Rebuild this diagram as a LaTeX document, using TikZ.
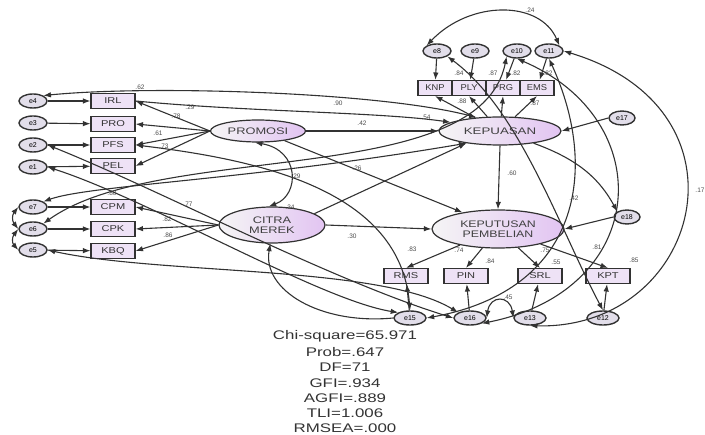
\documentclass[tikz,border=0pt]{standalone}
\usepackage{fontspec}
\setmainfont{Liberation Sans}
\usetikzlibrary{shapes.geometric,arrows.meta}
\definecolor{latpink}{RGB}{226,196,242}
\definecolor{obsfill}{RGB}{238,226,246}
\definecolor{errfill}{RGB}{226,222,234}
\definecolor{ln}{RGB}{50,50,50}
\begin{document}
\begin{tikzpicture}[x=1pt,y=-1pt,
  lat/.style={ellipse, draw=ln, line width=1.2pt, left color=black!4, right color=latpink, inner sep=0pt, font=\fontsize{9.5}{10}\selectfont, align=center, text=black!75},
  obs/.style={rectangle, draw=ln, line width=1.1pt, fill=obsfill, minimum width=44, minimum height=15, inner sep=0pt, font=\fontsize{8.5}{9}\selectfont, text=black!80},
  err/.style={ellipse, draw=ln, line width=1.4pt, fill=errfill, minimum width=28, minimum height=14, inner sep=0pt, font=\fontsize{7}{7}\selectfont},
  pth/.style={-{Latex[length=7.5pt,width=5.5pt]}, line width=1.1pt, draw=ln},
  cov/.style={{Latex[length=7.5pt,width=5.5pt]}-{Latex[length=7.5pt,width=5.5pt]}, line width=1.1pt, draw=ln},
  lab/.style={font=\fontsize{6.5}{6.5}\selectfont, text=black!70, inner sep=0.5pt},
  fit/.style={font=\fontsize{12.5}{12.5}\selectfont, text=black!80, inner sep=0pt}]
\useasboundingbox (0,0) rectangle (705,435);
% ---- left indicators
\node[err] (e4) at (33,101) {e4};
\node[err] (e3) at (33,123) {e3};
\node[err] (e2) at (33,145) {e2};
\node[err] (e1) at (33,167) {e1};
\node[err] (e7) at (33,207) {e7};
\node[err] (e6) at (33,229) {e6};
\node[err] (e5) at (33,250) {e5};
\node[obs] (IRL) at (113,101) {\scalebox{1.3}[1]{IRL}};
\node[obs] (PRO) at (113,124) {\scalebox{1.3}[1]{PRO}};
\node[obs] (PFS) at (113,145) {\scalebox{1.3}[1]{PFS}};
\node[obs] (PEL) at (113,166) {\scalebox{1.3}[1]{PEL}};
\node[obs] (CPM) at (113,207) {\scalebox{1.3}[1]{CPM}};
\node[obs] (CPK) at (113,229) {\scalebox{1.3}[1]{CPK}};
\node[obs] (KBQ) at (113,251) {\scalebox{1.3}[1]{KBQ}};
% ---- latent
\node[lat, minimum width=95, minimum height=22] (PROM) at (258,131) {\scalebox{1.35}[1]{PROMOSI}};
\node[lat, minimum width=106, minimum height=36] (CITRA) at (272,225) {\scalebox{1.35}[1]{CITRA}\\\scalebox{1.35}[1]{MEREK}};
\node[lat, minimum width=122, minimum height=28] (KEPU) at (500,131) {\scalebox{1.4}[1]{KEPUASAN}};
\node[lat, minimum width=132, minimum height=38] (KEPT) at (498,229) {\scalebox{1.3}[1]{KEPUTUSAN}\\\scalebox{1.3}[1]{PEMBELIAN}};
% ---- top indicators
\node[obs, minimum width=34] (KNP) at (435,88) {\scalebox{1.1}[1]{KNP}};
\node[obs, minimum width=34] (PLY) at (469,88) {\scalebox{1.1}[1]{PLY}};
\node[obs, minimum width=34] (PRG) at (503,88) {\scalebox{1.1}[1]{PRG}};
\node[obs, minimum width=34] (EMS) at (537,88) {\scalebox{1.1}[1]{EMS}};
\node[err] (e8) at (437,51) {e8};
\node[err] (e9) at (475,51) {e9};
\node[err] (e10) at (517,51) {e10};
\node[err] (e11) at (549,51) {e11};
\node[err, minimum width=26] (e17) at (622,118) {e17};
\node[err, minimum width=26] (e18) at (627,217) {e18};
% ---- bottom indicators
\node[obs] (RMS) at (406,276) {\scalebox{1.3}[1]{RMS}};
\node[obs] (PIN) at (466,276) {\scalebox{1.3}[1]{PIN}};
\node[obs] (SRL) at (540,276) {\scalebox{1.3}[1]{SRL}};
\node[obs] (KPT) at (608,276) {\scalebox{1.3}[1]{KPT}};
\node[err, minimum width=32] (e15) at (410,318) {e15};
\node[err, minimum width=32] (e16) at (470,318) {e16};
\node[err, minimum width=32] (e13) at (530,318) {e13};
\node[err, minimum width=32] (e12) at (603,318) {e12};
% ---- measurement paths
\foreach \e/\b in {e4/IRL,e3/PRO,e2/PFS,e1/PEL,e7/CPM,e6/CPK,e5/KBQ,e8/KNP,e9/PLY,e10/PRG,e11/EMS,e15/RMS,e16/PIN,e13/SRL,e12/KPT}
  \draw[pth] (\e) -- (\b);
\foreach \b in {IRL,PRO,PFS,PEL} \draw[pth] (PROM.west) -- (\b.east);
\foreach \b in {CPM,CPK,KBQ} \draw[pth] (CITRA.west) -- (\b.east);
\foreach \b in {KNP,PLY,PRG,EMS} \draw[pth] (KEPU) -- (\b.south);
\foreach \b in {RMS,PIN,SRL,KPT} \draw[pth] (KEPT) -- (\b.north);
% ---- structural paths
\draw[pth] (PROM.east) -- (KEPU.west);
\draw[pth] (PROM.-20) -- (KEPT.155);
\draw[pth] (CITRA.15) -- (KEPU.200);
\draw[pth] (CITRA.east) -- (KEPT.west);
\draw[pth] (KEPU.south) -- (KEPT.north);
\draw[pth] (e17.west) -- (KEPU.east);
\draw[pth] (e18.west) -- (KEPT.east);
\draw[cov] (PROM.255) .. controls (300,150) and (300,195) .. (CITRA.100);
\draw[cov] (e8.north west) .. controls (470,0) and (540,0) .. (e11.north east);
\draw[cov] (e16.east) .. controls (490,295) and (510,295) .. (e13.west);
% ---- long curves
\draw[cov] (e4.north east) .. controls (150,85) and (380,92) .. (KEPU.150);
\draw[pth] (IRL.east) .. controls (250,112) and (380,112) .. (KEPU.170);
\draw[cov] (e11.east) .. controls (760,110) and (700,330) .. (e13.south);
\draw[cov] (e10.south) .. controls (660,120) and (650,290) .. (e16.south east);
\draw[cov] (e11.south) .. controls (600,170) and (580,290) .. (e15.east);
\draw[cov] (e8.south east) .. controls (520,110) and (560,230) .. (e12.north);
\draw[pth] (KEPU.-20) .. controls (580,160) and (600,180) .. (e18.north west);
\draw[cov] (e6.north east) .. controls (160,140) and (480,190) .. (e10.south west);
\draw[cov] (e2.east) .. controls (160,190) and (330,280) .. (e16.west);
\draw[cov] (e1.east) .. controls (150,200) and (320,300) .. (e15.north west);
\draw[cov] (e5.east) .. controls (160,275) and (380,265) .. (e16.north west);
\draw[pth] (e15.west) .. controls (320,325) and (262,290) .. (CITRA.265);
\draw[cov] (e7.north east) .. controls (90,185) and (250,180) .. (KEPU.200);
\draw[cov] (PFS.east) .. controls (260,160) and (400,190) .. (e15.north);
\draw[cov] (e7.west) .. controls (12,215) and (12,221) .. (e6.west);
\draw[cov] (e6.west) .. controls (12,237) and (12,243) .. (e5.west);
% ---- labels
\node[lab] at (140,87) {.62};
\node[lab] at (176,116) {.78};
\node[lab] at (158,133) {.61};
\node[lab] at (164,146) {.73};
\node[lab] at (190,107) {.29};
\node[lab] at (338,103) {.90};
\node[lab] at (426,117) {.54};
\node[lab] at (362,123) {.42};
\node[lab] at (112,193) {.80};
\node[lab] at (188,204) {.77};
\node[lab] at (167,219) {.82};
\node[lab] at (168,235) {.86};
\node[lab] at (296,176) {.29};
\node[lab] at (290,207) {.34};
\node[lab] at (357,168) {.26};
\node[lab] at (352,236) {.30};
\node[lab] at (512,173) {.60};
\node[lab] at (530,10) {.24};
\node[lab] at (459,73) {.84};
\node[lab] at (493,73) {.87};
\node[lab] at (516,73) {.82};
\node[lab] at (548,73) {.82};
\node[lab] at (462,101) {.88};
\node[lab] at (535,103) {.87};
\node[lab] at (574,198) {.42};
\node[lab] at (700,190) {.17};
\node[lab] at (412,249) {.83};
\node[lab] at (459,250) {.74};
\node[lab] at (490,261) {.84};
\node[lab] at (545,250) {.75};
\node[lab] at (556,262) {.55};
\node[lab] at (597,247) {.81};
\node[lab] at (634,260) {.85};
\node[lab] at (508,297) {.45};
% ---- fit statistics
\node[fit] at (345,336) {\scalebox{1.35}[1]{Chi-square=65.971}};
\node[fit] at (345,352) {\scalebox{1.35}[1]{Prob=.647}};
\node[fit] at (345,367) {\scalebox{1.35}[1]{DF=71}};
\node[fit] at (345,383) {\scalebox{1.35}[1]{GFI=.934}};
\node[fit] at (345,398) {\scalebox{1.35}[1]{AGFI=.889}};
\node[fit] at (345,413) {\scalebox{1.35}[1]{TLI=1.006}};
\node[fit] at (345,428) {\scalebox{1.35}[1]{RMSEA=.000}};
\end{tikzpicture}
\end{document}
